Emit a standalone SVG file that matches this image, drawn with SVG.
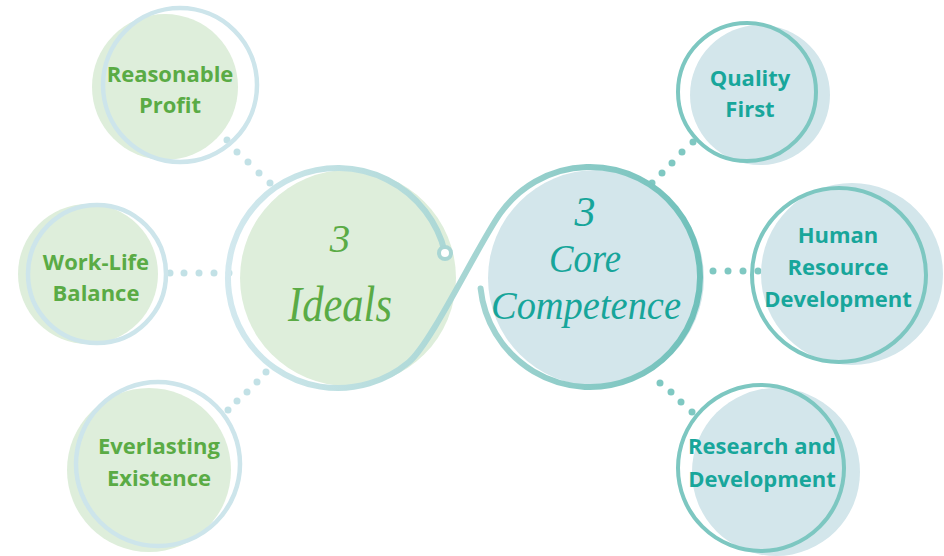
<svg xmlns="http://www.w3.org/2000/svg" width="944" height="556" viewBox="0 0 944 556">
<defs>
<style>
.gfill{fill:#deeedb}
.bfill{fill:#d3e6eb}
.gring{fill:none;stroke:#cde5eb;stroke-width:4.5}
.tring{fill:none;stroke:#7dc7c1;stroke-width:4}
.gt{font-family:"Open Sans","Liberation Sans",sans-serif;font-weight:700;font-size:22px;fill:#5aab45;text-anchor:middle}
.tt{font-family:"Open Sans","Liberation Sans",sans-serif;font-weight:700;font-size:22px;fill:#18a69b;text-anchor:middle}
.big{font-family:"Liberation Serif","DejaVu Serif",serif;font-style:italic;text-anchor:middle}
.gdot{fill:#c2e1e6}
.tdot{fill:#7fc8c2}
</style>
<linearGradient id="ringGrad" gradientUnits="userSpaceOnUse" x1="228" y1="0" x2="702" y2="0">
<stop offset="0" stop-color="#d3e9ef"/>
<stop offset="0.45" stop-color="#acd8d6"/>
<stop offset="1" stop-color="#6fc0ba"/>
</linearGradient>
</defs>
<rect width="944" height="556" fill="#ffffff"/>

<g id="connectors">
<circle class="gdot" cx="227" cy="140" r="3.5"/>
<circle class="gdot" cx="237" cy="152" r="3.5"/>
<circle class="gdot" cx="248" cy="162" r="3.5"/>
<circle class="gdot" cx="259" cy="173" r="3.5"/>
<circle class="gdot" cx="270" cy="183" r="3.5"/>
<circle class="gdot" cx="170" cy="273" r="3.5"/>
<circle class="gdot" cx="184" cy="273" r="3.5"/>
<circle class="gdot" cx="199" cy="273" r="3.5"/>
<circle class="gdot" cx="214" cy="273" r="3.5"/>
<circle class="gdot" cx="229" cy="273" r="3.5"/>
<circle class="gdot" cx="228" cy="410" r="3.5"/>
<circle class="gdot" cx="237" cy="401" r="3.5"/>
<circle class="gdot" cx="247" cy="392" r="3.5"/>
<circle class="gdot" cx="257" cy="382" r="3.5"/>
<circle class="gdot" cx="266" cy="372" r="3.5"/>
<circle class="tdot" cx="652" cy="183" r="3.5"/>
<circle class="tdot" cx="662" cy="173" r="3.5"/>
<circle class="tdot" cx="672" cy="163" r="3.5"/>
<circle class="tdot" cx="682" cy="152" r="3.5"/>
<circle class="tdot" cx="693" cy="142" r="3.5"/>
<circle class="tdot" cx="713" cy="271" r="3.5"/>
<circle class="tdot" cx="728" cy="271" r="3.5"/>
<circle class="tdot" cx="743" cy="271" r="3.5"/>
<circle class="tdot" cx="758" cy="271" r="3.5"/>
<circle class="tdot" cx="660" cy="383" r="3.5"/>
<circle class="tdot" cx="671" cy="392" r="3.5"/>
<circle class="tdot" cx="681" cy="402" r="3.5"/>
<circle class="tdot" cx="692" cy="412" r="3.5"/>
</g>

<g id="node-reasonable-profit">
<circle class="gfill" cx="165" cy="87" r="73"/>
<circle class="gring" cx="180" cy="85" r="77"/>
<text class="gt" x="170" y="82">Reasonable</text>
<text class="gt" x="170" y="113">Profit</text>
</g>

<g id="node-work-life-balance">
<circle class="gfill" cx="88" cy="274" r="70"/>
<circle class="gring" cx="97" cy="274" r="69"/>
<text class="gt" x="96" y="270">Work-Life</text>
<text class="gt" x="96" y="301">Balance</text>
</g>

<g id="node-everlasting-existence">
<circle class="gfill" cx="149" cy="470" r="82"/>
<circle class="gring" cx="158" cy="464" r="82"/>
<text class="gt" x="159" y="454">Everlasting</text>
<text class="gt" x="159" y="486">Existence</text>
</g>

<g id="node-quality-first">
<circle class="bfill" cx="760" cy="95" r="70"/>
<circle class="tring" cx="747" cy="92" r="69"/>
<text class="tt" x="750" y="86">Quality</text>
<text class="tt" x="750" y="117">First</text>
</g>

<g id="node-human-resource">
<circle class="bfill" cx="852" cy="274" r="91"/>
<circle class="tring" cx="839" cy="275" r="87"/>
<text class="tt" x="838" y="243">Human</text>
<text class="tt" x="838" y="275">Resource</text>
<text class="tt" x="838" y="307">Development</text>
</g>

<g id="node-research-development">
<circle class="bfill" cx="776" cy="472" r="84"/>
<circle class="tring" cx="761" cy="468" r="83"/>
<text class="tt" x="762" y="454">Research and</text>
<text class="tt" x="762" y="487">Development</text>
</g>

<g id="node-3-ideals">
<circle class="gfill" cx="348" cy="278" r="108"/>
<text class="big" x="340" y="252" font-size="41" fill="#5aab45">3</text>
<text class="big" x="340" y="321" font-size="50" fill="#5aab45" textLength="104" lengthAdjust="spacingAndGlyphs">Ideals</text>
</g>

<g id="node-3-core-competence">
<circle class="bfill" cx="596" cy="278" r="108"/>
<text class="big" x="585" y="226" font-size="42" fill="#17a59a">3</text>
<text class="big" x="585" y="272" font-size="40" fill="#17a59a" textLength="72" lengthAdjust="spacingAndGlyphs">Core</text>
<text class="big" x="586" y="319" font-size="40" fill="#17a59a" textLength="190" lengthAdjust="spacingAndGlyphs">Competence</text>
</g>

<g id="core-ring">
<path d="M 444.7 251.4 A 110 110 0 1 0 408.7 362.3 C 431.7 343 476.9 246.7 499.9 213.9 A 110 110 0 1 1 480.6 288.5" fill="none" stroke="url(#ringGrad)" stroke-width="6" stroke-linecap="round"/>
<circle cx="445" cy="253" r="6" fill="#ffffff" stroke="#a9d6d4" stroke-width="4"/>
</g>
</svg>
